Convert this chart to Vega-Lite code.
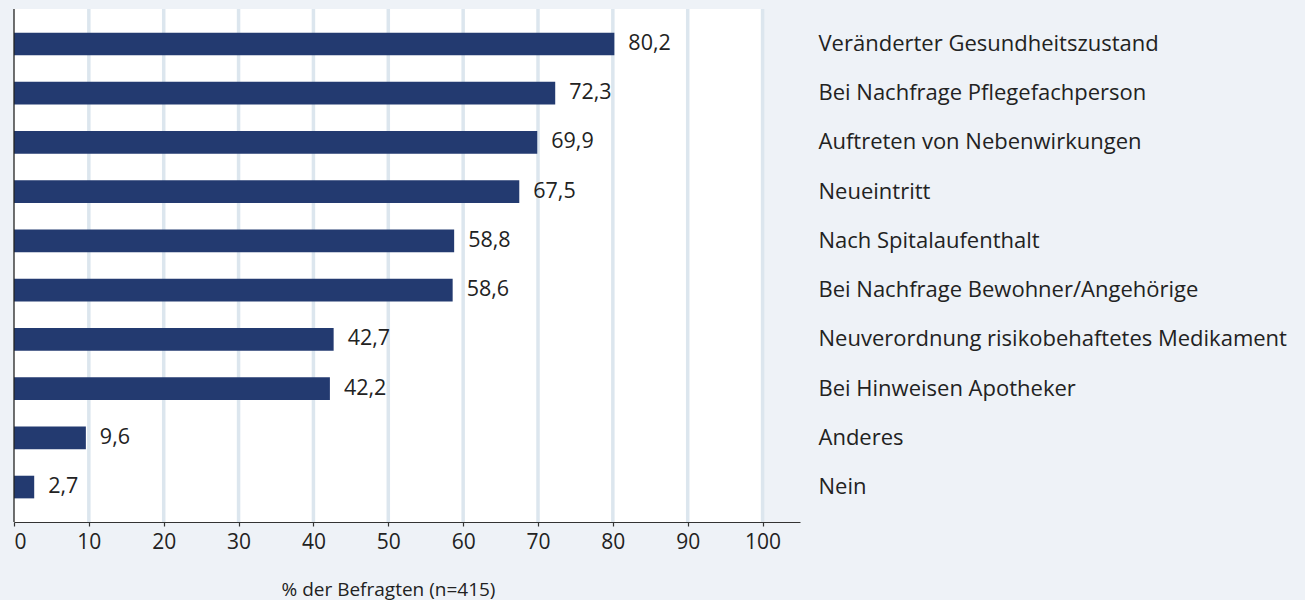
{
  "$schema": "https://vega.github.io/schema/vega-lite/v6.json",
  "autosize": {"type": "none"},
  "width": 786,
  "height": 513,
  "padding": {"left": 14, "top": 9, "right": 505, "bottom": 78},
  "background": "#eef2f7",
  "config": {
    "view": {"stroke": null},
    "font": "Open Sans",
    "locale": {"number": {"decimal": ",", "thousands": ".", "grouping": [3], "currency": ["", " €"]}}
  },
  "datasets": {
    "bars": [
      {"kategorie": "Veränderter Gesundheitszustand", "prozent": 80.2},
      {"kategorie": "Bei Nachfrage Pflegefachperson", "prozent": 72.3},
      {"kategorie": "Auftreten von Nebenwirkungen", "prozent": 69.9},
      {"kategorie": "Neueintritt", "prozent": 67.5},
      {"kategorie": "Nach Spitalaufenthalt", "prozent": 58.8},
      {"kategorie": "Bei Nachfrage Bewohner/Angehörige", "prozent": 58.6},
      {"kategorie": "Neuverordnung risikobehaftetes Medikament", "prozent": 42.7},
      {"kategorie": "Bei Hinweisen Apotheker", "prozent": 42.2},
      {"kategorie": "Anderes", "prozent": 9.6},
      {"kategorie": "Nein", "prozent": 2.7}
    ],
    "panel": [{"von": 0, "bis": 100}],
    "grid": [{"wert": 10}, {"wert": 20}, {"wert": 30}, {"wert": 40}, {"wert": 50}, {"wert": 60}, {"wert": 70}, {"wert": 80}, {"wert": 90}, {"wert": 100}],
    "achse": [{"wert": 0}]
  },
  "layer": [
    {
      "data": {"name": "panel"},
      "mark": {"type": "rect", "color": "#ffffff"},
      "encoding": {
        "x": {"field": "von", "type": "quantitative", "scale": {"domain": [0, 105], "nice": false, "zero": true}},
        "x2": {"field": "bis"}
      }
    },
    {
      "data": {"name": "grid"},
      "mark": {"type": "rule", "color": "#dce6ee", "strokeWidth": 3.5},
      "encoding": {
        "x": {"field": "wert", "type": "quantitative"}
      }
    },
    {
      "data": {"name": "bars"},
      "mark": {"type": "bar", "color": "#233a70"},
      "encoding": {
        "y": {
          "field": "kategorie", "type": "nominal", "sort": null,
          "scale": {"paddingInner": 0.54, "paddingOuter": 0.48},
          "axis": {
            "orient": "right", "title": null, "domain": false, "ticks": false, "grid": false,
            "labelAlign": "left", "labelPadding": 18, "labelFontSize": 22, "labelColor": "#222222",
            "labelLimit": 0
          }
        },
        "x": {
          "field": "prozent", "type": "quantitative",
          "axis": {
            "title": "% der Befragten (n=415)", "titleFontSize": 19, "titleFontWeight": "normal", "titleColor": "#222222",
            "titleX": 374, "titleY": 67, "titleBaseline": "middle", "titleAnchor": null, "titleAlign": "center",
            "values": [0, 10, 20, 30, 40, 50, 60, 70, 80, 90, 100],
            "grid": false, "domain": true, "domainColor": "#333333", "domainWidth": 1.2,
            "ticks": true, "tickColor": "#333333", "tickSize": 4, "tickWidth": 1.2,
            "labelFontSize": 21, "labelColor": "#222222", "labelPadding": 5, "zindex": 1
          }
        }
      }
    },
    {
      "data": {"name": "bars"},
      "mark": {"type": "text", "align": "left", "dx": 14, "fontSize": 21.5, "color": "#222222"},
      "encoding": {
        "y": {"field": "kategorie", "type": "nominal", "sort": null},
        "x": {"field": "prozent", "type": "quantitative"},
        "text": {"field": "prozent", "type": "quantitative", "format": ".1f"}
      }
    },
    {
      "data": {"name": "achse"},
      "mark": {"type": "rule", "color": "#222222", "strokeWidth": 1.3},
      "encoding": {
        "x": {"field": "wert", "type": "quantitative"}
      }
    }
  ]
}
